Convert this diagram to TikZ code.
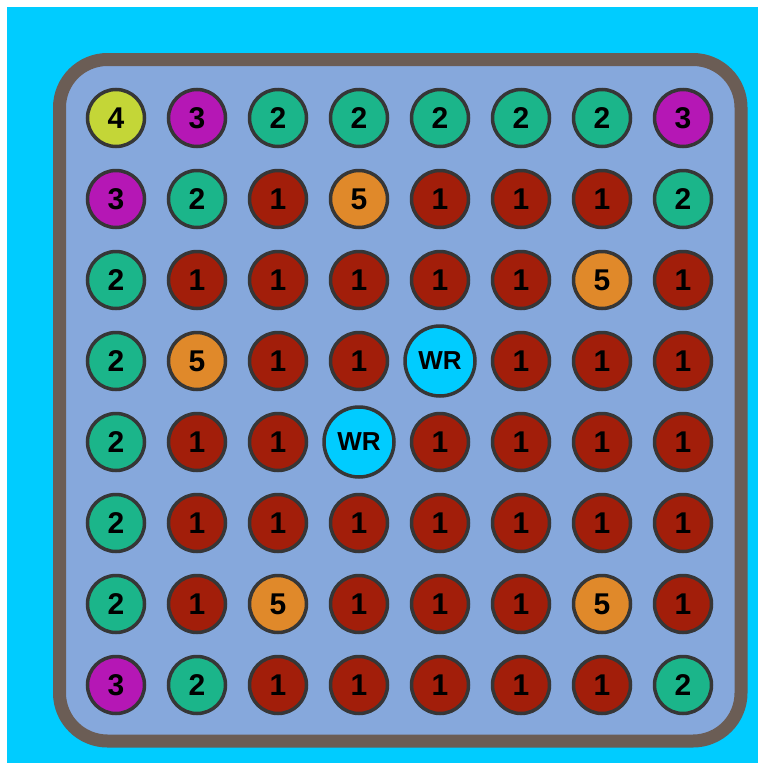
\documentclass[tikz,border=0pt]{standalone}
\usepackage{fontspec}
\setmainfont{Liberation Sans}
\usepackage{xcolor}
\definecolor{skyCyan}{HTML}{00CCFF}
\definecolor{boardBlue}{HTML}{86A8DC}
\definecolor{frameBrown}{HTML}{6B5D55}
\definecolor{ringGray}{HTML}{363636}
\definecolor{limeTile}{HTML}{C4D637}
\definecolor{plumTile}{HTML}{B517B5}
\definecolor{mintTile}{HTML}{1BB58A}
\definecolor{rustTile}{HTML}{A21E0A}
\definecolor{amberTile}{HTML}{E0892A}
\usetikzlibrary{positioning}

\begin{document}
\begin{tikzpicture}[
    x=1pt, y=-1pt,
    cell/.style   ={circle, draw=ringGray, line width=3.5pt, inner sep=0pt,
                    minimum size=57pt, font=\bfseries\fontsize{30}{30}\selectfont},
    cell1/.style  ={cell, fill=rustTile},
    cell2/.style  ={cell, fill=mintTile},
    cell3/.style  ={cell, fill=plumTile},
    cell4/.style  ={cell, fill=limeTile},
    cell5/.style  ={cell, fill=amberTile},
    cellWR/.style ={cell, fill=skyCyan, minimum size=70pt,
                    font=\bfseries\fontsize{26}{26}\selectfont},
    board/.style  ={draw=frameBrown, fill=boardBlue, line width=13pt,
                    rounded corners=48pt}
]
\useasboundingbox (0,0) rectangle (758,763);
\fill[skyCyan] (7,7) rectangle (758,763);
\draw[board] (59.5,59.5) rectangle (741,741);

% tiles, row by row
\foreach \line [count=\r] in {
    {4,3,2,2,2,2,2,3},
    {3,2,1,5,1,1,1,2},
    {2,1,1,1,1,1,5,1},
    {2,5,1,1,WR,1,1,1},
    {2,1,1,WR,1,1,1,1},
    {2,1,1,1,1,1,1,1},
    {2,1,5,1,1,1,5,1},
    {3,2,1,1,1,1,1,2}} {
  \foreach \v [count=\c] in \line {
    \node[cell\v] (t-\r-\c) at ({116+81*(\c-1)},{118+81*(\r-1)}) {\v};
  }
}
\end{tikzpicture}
\end{document}
